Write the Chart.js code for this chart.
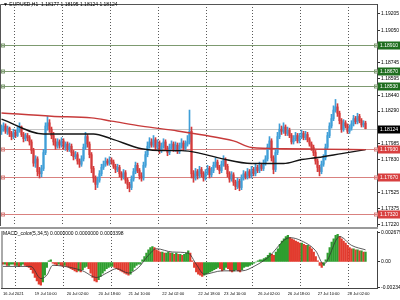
<!DOCTYPE html>
<html><head><meta charset="utf-8">
<script src="https://cdn.jsdelivr.net/npm/chart.js@4.4.0/dist/chart.umd.min.js"></script>
<style>
html,body{margin:0;padding:0;background:#fff;}
#wrap{position:relative;width:400px;height:300px;overflow:hidden;background:#fff;}
#c1{position:absolute;left:0;top:0;}
#c2{position:absolute;left:0;top:227px;}
</style></head><body>
<div id="wrap"><canvas id="c1" width="400" height="230"></canvas><canvas id="c2" width="400" height="73"></canvas></div>
<script>
// ---------- data ----------
const titleText = '\u25BC EURUSD,H1  1.18177 1.18195 1.18124 1.18124';
const macdTitle = 'MACD_color(5,34,5) 0.0000000 0.0000000 0.0003398';
const firstOpen = 1.1810;
const closes = [1.1812,1.1815,1.1810,1.1813,1.1808,1.1805,1.1809,1.1806,1.1811,1.1814,
 1.1807,1.1803,1.1806,1.1804,1.1800,1.1792,1.1780,1.1784,1.1772,1.1770,
 1.1775,1.1790,1.1815,1.1818,1.1812,1.1806,1.1800,1.1796,1.1800,1.1797,
 1.1801,1.1795,1.1798,1.1793,1.1796,1.1790,1.1786,1.1788,1.1782,1.1779,
 1.1784,1.1795,1.1805,1.1798,1.1788,1.1775,1.1766,1.1760,1.1764,1.1770,
 1.1776,1.1779,1.1782,1.1780,1.1783,1.1781,1.1777,1.1774,1.1776,1.1770,
 1.1767,1.1771,1.1764,1.1760,1.1757,1.1765,1.1772,1.1778,1.1773,1.1768,
 1.1766,1.1778,1.1788,1.1796,1.1800,1.1797,1.1802,1.1795,1.1799,1.1792,
 1.1796,1.1800,1.1794,1.1790,1.1795,1.1798,1.1793,1.1797,1.1791,1.1796,
 1.1799,1.1794,1.1798,1.1800,1.1810,1.1770,1.1766,1.1772,1.1768,1.1774,
 1.1770,1.1766,1.1771,1.1775,1.1769,1.1773,1.1778,1.1781,1.1776,1.1773,
 1.1779,1.1783,1.1777,1.1770,1.1765,1.1769,1.1762,1.1758,1.1763,1.1757,
 1.1766,1.1770,1.1767,1.1772,1.1768,1.1774,1.1770,1.1776,1.1773,1.1778,
 1.1775,1.1780,1.1784,1.1795,1.1801,1.1785,1.1774,1.1790,1.1805,1.1812,
 1.1810,1.1814,1.1808,1.1811,1.1806,1.1800,1.1803,1.1806,1.1801,1.1805,
 1.1808,1.1804,1.1807,1.1802,1.1798,1.1795,1.1790,1.1782,1.1776,1.1772,
 1.1779,1.1785,1.1795,1.1806,1.1815,1.1822,1.1830,1.1833,1.1827,1.1820,
 1.1812,1.1818,1.1815,1.1810,1.1813,1.1817,1.1822,1.1819,1.1824,1.1820,
 1.1816,1.18177,1.18124];
const highs = [1.1816,1.1818,1.1817,1.1815,1.1814,1.1810,1.1812,1.1811,1.1814,1.1818,
 1.1815,1.1809,1.1808,1.1808,1.1806,1.1802,1.1794,1.1787,1.1786,1.1776,
 1.1778,1.1793,1.1818,1.1824,1.1821,1.1814,1.1809,1.1803,1.1803,1.1802,
 1.1804,1.1803,1.1800,1.1800,1.1799,1.1798,1.1792,1.1791,1.1790,1.1784,
 1.1787,1.1798,1.1809,1.1807,1.1800,1.1790,1.1777,1.1768,1.1767,1.1773,
 1.1779,1.1782,1.1785,1.1784,1.1786,1.1785,1.1783,1.1779,1.1779,1.1778,
 1.1772,1.1774,1.1773,1.1766,1.1762,1.1768,1.1775,1.1781,1.1780,1.1775,
 1.1771,1.1781,1.1791,1.1800,1.1804,1.1803,1.1806,1.1804,1.1802,1.1801,
 1.1799,1.1803,1.1802,1.1796,1.1798,1.1801,1.1800,1.1800,1.1799,1.1799,
 1.1803,1.1801,1.1801,1.1806,1.1830,1.1814,1.1773,1.1775,1.1774,1.1777,
 1.1776,1.1772,1.1774,1.1778,1.1777,1.1776,1.1781,1.1785,1.1783,1.1778,
 1.1782,1.1787,1.1785,1.1779,1.1772,1.1772,1.1771,1.1764,1.1766,1.1765,
 1.1769,1.1773,1.1772,1.1775,1.1774,1.1777,1.1776,1.1779,1.1778,1.1781,
 1.1780,1.1783,1.1787,1.1798,1.1805,1.1803,1.1787,1.1793,1.1809,1.1817,
 1.1815,1.1818,1.1816,1.1814,1.1813,1.1808,1.1806,1.1809,1.1808,1.1808,
 1.1811,1.1810,1.1810,1.1809,1.1804,1.1800,1.1797,1.1792,1.1784,1.1778,
 1.1782,1.1788,1.1798,1.1809,1.1818,1.1826,1.1834,1.1840,1.1836,1.1829,
 1.1822,1.1821,1.1820,1.1817,1.1816,1.1820,1.1825,1.1824,1.1827,1.1826,
 1.1822,1.1820,1.18195];
const lows = [1.1807,1.1810,1.1808,1.1807,1.1805,1.1802,1.1803,1.1804,1.1805,1.1809,
 1.1805,1.1800,1.1801,1.1801,1.1797,1.1789,1.1777,1.1776,1.1768,1.1766,
 1.1767,1.1773,1.1788,1.1811,1.1809,1.1803,1.1797,1.1793,1.1794,1.1794,
 1.1795,1.1793,1.1792,1.1791,1.1791,1.1787,1.1783,1.1784,1.1779,1.1776,
 1.1777,1.1782,1.1793,1.1795,1.1785,1.1771,1.1762,1.1755,1.1757,1.1762,
 1.1768,1.1774,1.1777,1.1778,1.1778,1.1779,1.1775,1.1771,1.1772,1.1767,
 1.1764,1.1765,1.1761,1.1756,1.1753,1.1755,1.1763,1.1770,1.1771,1.1765,
 1.1763,1.1764,1.1776,1.1786,1.1794,1.1795,1.1795,1.1792,1.1793,1.1789,
 1.1790,1.1794,1.1792,1.1787,1.1788,1.1793,1.1791,1.1791,1.1789,1.1789,
 1.1794,1.1792,1.1792,1.1796,1.1798,1.1766,1.1762,1.1764,1.1765,1.1766,
 1.1767,1.1763,1.1764,1.1769,1.1766,1.1767,1.1771,1.1776,1.1774,1.1770,
 1.1771,1.1777,1.1774,1.1767,1.1762,1.1763,1.1759,1.1755,1.1756,1.1754,
 1.1755,1.1764,1.1765,1.1765,1.1766,1.1766,1.1768,1.1768,1.1771,1.1771,
 1.1773,1.1773,1.1778,1.1782,1.1793,1.1782,1.1770,1.1772,1.1788,1.1803,
 1.1807,1.1808,1.1806,1.1806,1.1804,1.1798,1.1798,1.1801,1.1799,1.1799,
 1.1803,1.1802,1.1802,1.1800,1.1796,1.1792,1.1787,1.1779,1.1772,1.1768,
 1.1770,1.1777,1.1783,1.1793,1.1804,1.1813,1.1820,1.1828,1.1824,1.1817,
 1.1809,1.1810,1.1813,1.1808,1.1808,1.1811,1.1815,1.1817,1.1817,1.1818,
 1.1814,1.1814,1.18124];
// moving averages read at sample bars: [bar index, value]
const redMA = [[0,1.18273],[25,1.18242],[45,1.18226],[55,1.18196],[70,1.18149],[88,1.18103],[100,1.18067],[116,1.18010],[125,1.17948],[141,1.17936],[158,1.17932],[182,1.17927]];
const blackMA = [[0,1.18214],[21,1.18075],[25,1.18075],[46,1.18075],[55,1.18029],[70,1.17936],[83,1.17918],[90,1.17918],[100,1.17890],[110,1.17843],[125,1.17797],[141,1.17797],[150,1.17834],[158,1.17853],[170,1.17890],[182,1.17927]];
const macdHist = [-0.0002,-0.0002,-0.0003,-0.0003,-0.0002,
 -0.0002,-0.0003,-0.0003,-0.0004,-0.0003,-0.0002,-0.0003,-0.0004,-0.0005,
 -0.0007,-0.0010,-0.0014,-0.0017,-0.0020,-0.0021,-0.0018,-0.0012,
 -0.0005,0.0001,0.0002,
 -0.0001,-0.0002,-0.0003,-0.0002,-0.0003,-0.0004,-0.0003,-0.0004,-0.0005,
 -0.0006,-0.0007,-0.0008,-0.0009,-0.0008,-0.0009,-0.0007,-0.0005,-0.0004,-0.0006,
 -0.0010,-0.0014,-0.0017,-0.0018,-0.0016,
 -0.0013,-0.0010,-0.0008,-0.0006,-0.0005,-0.0004,-0.0004,-0.0005,
 -0.0006,-0.0007,-0.0008,-0.0009,-0.0010,-0.0011,-0.0012,-0.0011,
 -0.0008,-0.0005,-0.0003,-0.0002,-0.0002,
 0.0002,0.0005,0.0008,0.0011,0.0013,0.0014,0.0013,
 0.0011,0.0010,0.0009,0.0009,0.0008,0.0008,0.0009,0.0008,0.0008,0.0007,0.0008,0.0007,0.0007,0.0006,0.0007,0.0008,
 0.0010,0.0008,0.0001,
 -0.0005,-0.0009,-0.0011,-0.0012,-0.0013,-0.0012,-0.0011,-0.0010,-0.0009,-0.0008,-0.0007,
 -0.0006,-0.0005,-0.0006,-0.0008,-0.0007,-0.0005,-0.0006,-0.0008,-0.0009,-0.0008,-0.0007,-0.0008,-0.0009,-0.0007,-0.0005,-0.0004,-0.0004,-0.0003,-0.0002,-0.0001,
 0.0000,0.0001,0.0002,0.0002,0.0003,0.0004,0.0006,0.0008,
 0.0007,0.0006,0.0009,0.0012,0.0016,0.0019,0.0021,0.0023,0.0024,0.0022,
 0.0021,0.0020,0.0019,0.0018,0.0017,0.0017,0.0016,0.0015,0.0015,0.0014,0.0012,0.0009,0.0005,
 0.0001,-0.0003,-0.0005,-0.0003,
 0.0002,0.0008,0.0013,0.0018,0.0021,0.0024,0.0025,0.0023,
 0.0021,0.0019,0.0017,0.0015,0.0013,0.0012,0.0012,0.0011,0.0011,0.0010,0.0010,0.0009,0.0009];
const macdSignal = [[0,-0.0004],[14,-0.0004],[19,-0.0015],[22,-0.0012],[25,-0.0003],[34,-0.0005],[40,-0.0008],[47,-0.0014],[52,-0.0010],[57,-0.0006],[63,-0.0010],[68,-0.0005],[73,0.0006],[77,0.0012],[85,0.0009],[93,0.0008],[97,-0.0002],[101,-0.0011],[110,-0.0008],[120,-0.0008],[127,-0.0003],[133,0.0004],[144,0.0022],[150,0.0019],[157,0.0010],[161,-0.0002],[169,0.0023],[175,0.0015],[182,0.0011]];
const priceTicks = [1.19205,1.19050,1.18745,1.18595,1.18440,1.18290,1.17985,1.17830,1.17525,1.17375,1.17220];
const greenLevels = [1.18910,1.18670,1.18530];
const redLevels = [1.17930,1.17670,1.17320];
const currentPrice = 1.18124;
const xTickIdx = [0,16,32,48,63,80,98,111,128,143,158,173];
const xTickLabels = ['16 Jul 2021','19 Jul 10:00','20 Jul 02:00','20 Jul 18:00','21 Jul 10:00','22 Jul 02:00','22 Jul 18:00','23 Jul 10:00','26 Jul 02:00','26 Jul 18:00','27 Jul 10:00','28 Jul 02:00'];
const gridIdx = [6,30,54,78,102,125,149,173];
const macdTicks = [0.0026799,0,-0.002343];
const macdTickLabels = ['0.0026799','0.00','-0.002343'];

// ---------- build ----------
const FONT = '"Liberation Sans", Arial, "DejaVu Sans", sans-serif';
Chart.defaults.font.family = FONT;
const idx = closes.map((_, i) => i);
const opens = closes.map((c, i) => i === 0 ? firstOpen : closes[i - 1]);
const UP = '#3f9fd8', DN = '#d43a3a';
const candleCol = idx.map(i => closes[i] >= opens[i] ? UP : DN);
const XMIN = -0.75, XMAX = 187.75;
const RIGHT_W = 23;
const priceScaleMax = 1.19299, priceScaleMin = 1.17208;
function fmt(v){ return v.toFixed(5); }

function drawVGrid(chart) {
  const {ctx, chartArea: a, scales: {x}} = chart;
  ctx.save();
  ctx.strokeStyle = '#5a5a5a'; ctx.lineWidth = 1; ctx.setLineDash([1, 2]);
  gridIdx.forEach(v => {
    const px = Math.round(x.getPixelForValue(v)) + 0.5;
    ctx.beginPath(); ctx.moveTo(px, a.top); ctx.lineTo(px, a.bottom); ctx.stroke();
  });
  ctx.restore();
}

const levelPlugin = {
  id: 'levels',
  beforeDatasetsDraw(chart) {
    const {ctx, chartArea: a, scales: {y}} = chart;
    drawVGrid(chart);
    ctx.save();
    const line = (v, col) => {
      const py = Math.round(y.getPixelForValue(v)) + 0.5;
      ctx.strokeStyle = col; ctx.lineWidth = 1;
      ctx.beginPath(); ctx.moveTo(a.left, py); ctx.lineTo(a.right, py); ctx.stroke();
    };
    line(currentPrice, '#c4c4c4');
    greenLevels.forEach(v => line(v, '#7d9a70'));
    redLevels.forEach(v => line(v, '#d9817f'));
    ctx.restore();
  },
  afterDraw(chart) {
    const {ctx, chartArea: a, scales: {y}} = chart;
    ctx.save();
    ctx.strokeStyle = '#555'; ctx.lineWidth = 1;
    ctx.beginPath();
    ctx.moveTo(a.left + 0.5, a.bottom); ctx.lineTo(a.left + 0.5, a.top + 0.5);
    ctx.lineTo(a.right, a.top + 0.5); ctx.stroke();
    ctx.fillStyle = '#000'; ctx.font = '5px ' + FONT; ctx.textBaseline = 'middle'; ctx.textAlign = 'left';
    ctx.fillText(titleText, 3, 5);
    const tag = (v, bg, lineCol) => {
      const py = Math.round(y.getPixelForValue(v)) + 0.5;
      ctx.strokeStyle = lineCol; ctx.lineWidth = 1;
      ctx.strokeRect(a.left + 1.5, py - 1.5, 3, 3);
      ctx.strokeRect(a.right - 2.5, py - 1.5, 3, 3);
      ctx.fillStyle = bg; ctx.fillRect(a.right + 1, py - 4, RIGHT_W, 8);
      ctx.fillStyle = '#fff'; ctx.font = '5px ' + FONT;
      ctx.fillText(fmt(v), a.right + 3, py + 0.3);
    };
    greenLevels.forEach(v => tag(v, '#1f6e1f', '#7d9a70'));
    redLevels.forEach(v => tag(v, '#d84040', '#d9817f'));
    const py = Math.round(y.getPixelForValue(currentPrice)) + 0.5;
    ctx.fillStyle = '#000'; ctx.fillRect(a.right + 1, py - 4, RIGHT_W, 8);
    ctx.fillStyle = '#fff'; ctx.fillText(fmt(currentPrice), a.right + 3, py + 0.3);
    ctx.restore();
  }
};

new Chart(document.getElementById('c1'), {
  type: 'bar',
  data: { datasets: [
    { type: 'line', data: redMA.map(([x, v]) => ({x, y: v})), borderColor: '#c73a3a', borderWidth: 1.4, pointRadius: 0, cubicInterpolationMode: 'monotone', order: 0 },
    { type: 'line', data: blackMA.map(([x, v]) => ({x, y: v})), borderColor: '#141414', borderWidth: 1.4, pointRadius: 0, cubicInterpolationMode: 'monotone', order: 0 },
    { type: 'bar', data: idx.map(i => ({x: i, y: [lows[i], highs[i]]})), backgroundColor: candleCol, barThickness: 1, grouped: false, order: 2 },
    { type: 'bar', data: idx.map(i => ({x: i, y: [opens[i], closes[i]]})), backgroundColor: candleCol, barThickness: 1.4, grouped: false, order: 1, minBarLength: 1 }
  ]},
  options: {
    responsive: false, animation: false, devicePixelRatio: 1,
    layout: { padding: { top: 1, left: 0, right: 0, bottom: 3.5 } },
    plugins: { legend: { display: false }, tooltip: { enabled: false } },
    scales: {
      x: { type: 'linear', display: false, min: XMIN, max: XMAX, offset: false, grid: { offset: false } },
      y: { type: 'linear', position: 'right', min: priceScaleMin, max: priceScaleMax,
        afterBuildTicks: s => { s.ticks = priceTicks.map(v => ({value: v})); },
        afterFit: s => { s.width = RIGHT_W; },
        ticks: { font: { size: 5 }, color: '#000', padding: 1, callback: v => fmt(v) },
        grid: { drawOnChartArea: false, drawTicks: true, tickLength: 3, color: '#333' },
        border: { display: true, color: '#444' } }
    }
  },
  plugins: [levelPlugin]
});

const macdCol = macdHist.map((v, i) => (i > 0 && v >= macdHist[i - 1]) ? '#2f9e2f' : '#e23b2e');
const macdPlugin = {
  id: 'macdDeco',
  beforeDatasetsDraw(chart) { drawVGrid(chart); },
  afterDraw(chart) {
    const {ctx, chartArea: a} = chart;
    ctx.save();
    ctx.fillStyle = '#9a9a9a'; ctx.fillRect(0, 0, a.right + 1, 2);
    ctx.strokeStyle = '#555'; ctx.lineWidth = 1;
    ctx.beginPath(); ctx.moveTo(a.left + 0.5, a.top); ctx.lineTo(a.left + 0.5, a.bottom); ctx.stroke();
    ctx.fillStyle = '#000'; ctx.font = '5px ' + FONT; ctx.textBaseline = 'middle'; ctx.textAlign = 'left';
    ctx.fillText(macdTitle, 3, 6.5);
    ctx.restore();
  }
};

new Chart(document.getElementById('c2'), {
  type: 'bar',
  data: { datasets: [
    { type: 'line', data: macdSignal.map(([x, v]) => ({x, y: v})), borderColor: '#333', borderWidth: 0.8, pointRadius: 0, cubicInterpolationMode: 'monotone', order: 0 },
    { type: 'bar', data: idx.map(i => ({x: i, y: macdHist[i]})), backgroundColor: macdCol, barThickness: 1.6, grouped: false, order: 1 }
  ]},
  options: {
    responsive: false, animation: false, devicePixelRatio: 1,
    layout: { padding: { top: 2, left: 0, right: 0, bottom: 0 } },
    plugins: { legend: { display: false }, tooltip: { enabled: false } },
    scales: {
      x: { type: 'linear', min: XMIN, max: XMAX, offset: false,
        afterBuildTicks: s => { s.ticks = xTickIdx.map(v => ({value: v})); },
        afterFit: s => { s.height = 12; },
        ticks: { autoSkip: false, maxRotation: 0, minRotation: 0, align: 'start', padding: 3, font: { size: 4 }, color: '#000',
          callback: (v, i) => xTickLabels[i] },
        grid: { display: false, drawTicks: false, offset: false },
        border: { display: true, color: '#444' } },
      y: { type: 'linear', position: 'right', min: -0.00235, max: 0.0028,
        afterBuildTicks: s => { s.ticks = macdTicks.map(v => ({value: v})); },
        afterFit: s => { s.width = RIGHT_W; },
        ticks: { font: { size: 5 }, color: '#000', padding: 1, callback: (v, i) => macdTickLabels[i] },
        grid: { drawOnChartArea: false, drawTicks: true, tickLength: 3, color: '#333' },
        border: { display: true, color: '#444' } }
    }
  },
  plugins: [macdPlugin]
});
</script>
</body></html>
